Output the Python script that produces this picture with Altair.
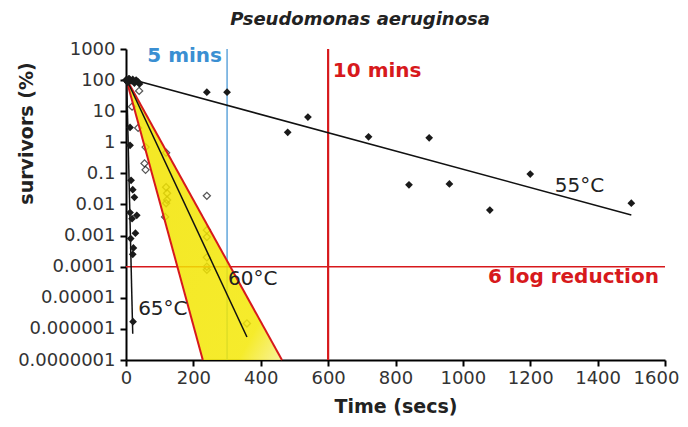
import altair as alt
import pandas as pd

# ---- data ----
# 55 C (filled diamonds)
t55 = [0, 5, 10, 15, 20, 25, 30, 35, 40, 240, 300, 480, 540, 720, 840, 900, 960, 1080, 1200, 1500]
s55 = [100, 85, 110, 95, 105, 80, 100, 90, 75, 41, 41, 2.1, 6.5, 1.5, 0.043, 1.4, 0.046, 0.0066, 0.095, 0.011]
# 65 C (filled diamonds)
t65 = [0, 5, 8, 12, 12, 15, 20, 25, 12, 32, 18, 28, 14, 22, 20, 21]
s65 = [100, 90, 110, 3, 0.8, 0.06, 0.03, 0.017, 0.0055, 0.0045, 0.0035, 0.0012, 0.0008, 0.0004, 0.00025, 1.7e-6]
# 60 C (open diamonds)
t60 = [18, 36, 39, 55, 58, 58, 116, 119, 119, 119, 122, 122, 240, 240, 240, 240, 240, 240, 359]
s60 = [14, 2.9, 45, 0.21, 0.7, 0.13, 0.004, 0.46, 0.036, 0.011, 0.023, 0.014, 0.019, 0.0015, 0.0009, 0.0002, 0.0001, 0.00008, 1.5e-6]

# regression lines
line_names = ["55", "55", "60", "60", "65", "65"]
line_t = [40, 1500, 0, 359, 2, 20]
line_s = [90, 0.0046, 115, 5.5e-7, 100, 7e-7]

# confidence band of 60 C (apex and bottom edge)
band_s = [115, 1e-7]
band_left = [0, 228]
band_right = [0, 463]
edge_names = ["lo", "lo", "hi", "hi"]
edge_t = [0, 228, 0, 463]
edge_s = [115, 1e-7, 115, 1e-7]

x_ticks = [0, 200, 400, 600, 800, 1000, 1200, 1400, 1600]
y_ticks = [1e-7, 1e-6, 1e-5, 1e-4, 1e-3, 1e-2, 1e-1, 1, 10, 100, 1000]

# annotations
ann_text = ["5 mins", "10 mins", "6 log reduction", "55°C", "60°C", "65°C"]
ann_t = [285, 614, 1582, 1273, 303, 36]
ann_s = [380, 126, 3e-5, 0.025, 2.6e-5, 2.8e-6]
ann_color = ["#3a8fd2", "#d7191c", "#d7191c", "#222222", "#222222", "#222222"]
ann_align = ["right", "left", "right", "left", "left", "left"]
ann_weight = ["bold", "bold", "bold", "normal", "normal", "normal"]

TITLE = "Pseudomonas aeruginosa"

RED = "#d7191c"
BLUE = "#3a8fd2"
FONT = "DejaVu Sans"

xs = alt.Scale(domain=[0, 1600], nice=False, zero=False)
ys = alt.Scale(type="log", domain=[1e-7, 1000], nice=False)

X = alt.X("t:Q", scale=xs, title="Time (secs)",
          axis=alt.Axis(values=x_ticks, format="d", labelOverlap=False,
                        labelFlush=False, labelPadding=3, titlePadding=10,
                        labelOffset=alt.condition("datum.value == 1600",
                                                  alt.value(-9), alt.value(0))))
Y = alt.Y("s:Q", scale=ys, title="survivors (%)",
          axis=alt.Axis(values=y_ticks, format=".7~f", labelPadding=5,
                        labelOverlap=False, labelFlush=False,
                        titleX=-100, titleY=84, titleAngle=-90,
                        titleAlign="center", titleBaseline="middle"))

filled = pd.DataFrame({"t": t55 + t65, "s": s55 + s65})
opened = pd.DataFrame({"t": t60, "s": s60})
lines = pd.DataFrame({"g": line_names, "t": line_t, "s": line_s})
band = pd.DataFrame({"s": band_s, "t": band_left, "t2": band_right})
edges = pd.DataFrame({"g": edge_names, "t": edge_t, "s": edge_s})

pts_open = alt.Chart(opened).mark_point(
    shape="diamond", filled=False, color="#111111", size=50, strokeWidth=1.3
).encode(x=X, y=Y)

band_layer = alt.Chart(band).mark_area(
    orient="horizontal", opacity=0.85,
    color=alt.Gradient(
        gradient="linear",
        stops=[alt.GradientStop(color="#f2e400", offset=0),
               alt.GradientStop(color="#f4e806", offset=0.8),
               alt.GradientStop(color="#f7f08a", offset=1)],
        x1=0.3, y1=0.3, x2=1, y2=1)
).encode(y=alt.Y("s:Q", scale=ys), x=alt.X("t:Q", scale=xs), x2="t2:Q")

edge_layer = alt.Chart(edges).mark_line(color=RED, strokeWidth=2).encode(
    x=alt.X("t:Q", scale=xs), y=alt.Y("s:Q", scale=ys), detail="g:N")

reg_layer = alt.Chart(lines).mark_line(color="#111111", strokeWidth=1.5).encode(
    x=alt.X("t:Q", scale=xs), y=alt.Y("s:Q", scale=ys), detail="g:N")

pts_filled = alt.Chart(filled).mark_point(
    shape="diamond", filled=True, color="#1a1a1a", size=60, opacity=1
).encode(x=alt.X("t:Q", scale=xs), y=alt.Y("s:Q", scale=ys))

rules_v = pd.DataFrame({"t": [300, 600], "c": [BLUE, RED], "w": [1.2, 2.2]})
vrule = alt.Chart(rules_v).mark_rule().encode(
    x=alt.X("t:Q", scale=xs),
    color=alt.Color("c:N", scale=None),
    strokeWidth=alt.StrokeWidth("w:Q", scale=None))
hrule = alt.Chart(pd.DataFrame({"s": [1e-4]})).mark_rule(color=RED, strokeWidth=1.6).encode(
    y=alt.Y("s:Q", scale=ys))

ann = pd.DataFrame({"t": ann_t, "s": ann_s, "txt": ann_text})
text_layers = []
for i in range(len(ann_text)):
    row = ann.iloc[[i]]
    text_layers.append(
        alt.Chart(row).mark_text(
            align=ann_align[i], baseline="alphabetic", font=FONT,
            fontSize=20, fontWeight=ann_weight[i], color=ann_color[i]
        ).encode(x=alt.X("t:Q", scale=xs), y=alt.Y("s:Q", scale=ys), text="txt:N")
    )

title_layer = alt.Chart(pd.DataFrame({"txt": [TITLE]})).mark_text(
    align="center", baseline="middle", font=FONT, fontSize=18,
    fontStyle="italic", fontWeight="bold", color="#222222"
).encode(x=alt.value(234), y=alt.value(-29), text="txt:N")

chart = alt.layer(
    pts_open, vrule, hrule, band_layer, edge_layer, reg_layer, pts_filled,
    *text_layers, title_layer
).properties(
    width=539, height=311,
    autosize=alt.AutoSizeParams(type="none"),
    padding={"left": 118, "top": 41, "right": 15, "bottom": 59},
).configure_view(stroke=None).configure_axis(
    grid=False, domainColor="black", domainWidth=2, tickColor="black",
    tickWidth=2, tickSize=6, labelColor="#333333", labelFont=FONT,
    labelFontSize=18, titleFont=FONT, titleFontSize=19, titleFontWeight="bold",
    titleColor="#222222"
)

chart.save("out.html", embed_options={"renderer": "svg", "actions": False})
